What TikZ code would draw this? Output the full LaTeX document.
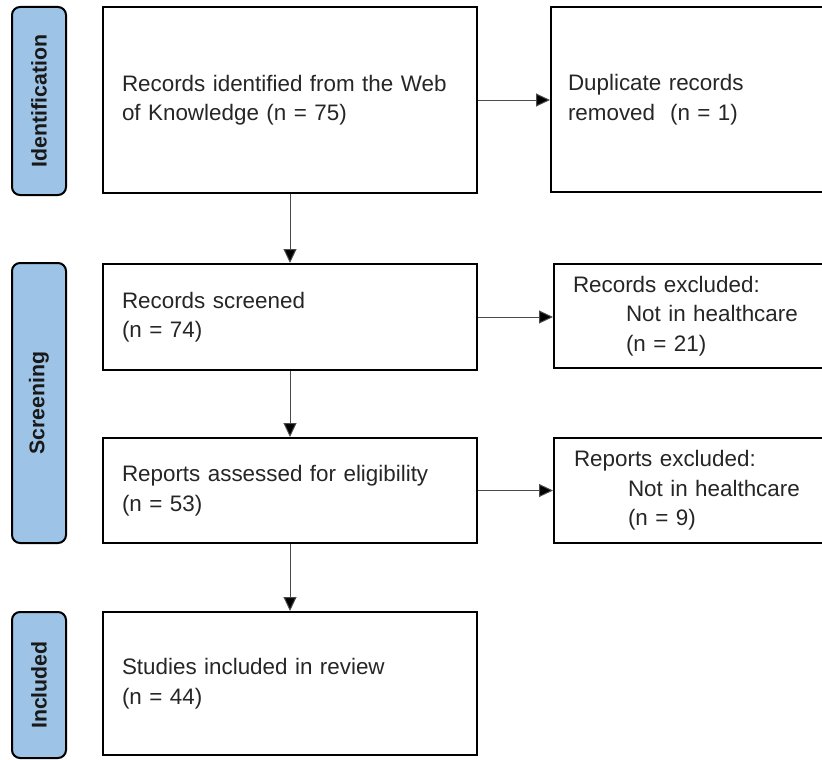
\documentclass[tikz,border=0pt]{standalone}
\usepackage{fontspec}
\setmainfont{Liberation Sans}
\usetikzlibrary{arrows.meta}
\definecolor{phase}{HTML}{9DC3E6}
\begin{document}
\begin{tikzpicture}[x=1pt,y=-1pt,
  box/.style={draw=black, line width=2pt, fill=white, align=left, inner xsep=0pt, inner ysep=0pt,
    font=\fontsize{22.4}{29.5}\selectfont, text=black!85},
  phaselab/.style={draw=black, line width=2pt, fill=phase, rounded corners=8pt, rotate=90,
    font=\bfseries\fontsize{21.3}{24}\selectfont, inner sep=0pt, text=black!90},
  conn/.style={draw=black!70, line width=1pt, -{Triangle[length=14pt,width=13pt,fill=black]}}
]
\clip (0,0) rectangle (822,760);
\fill[white] (0,0) rectangle (822,760);

% phase labels
\node[phaselab, minimum width=188pt, minimum height=54pt] (pid) at (39,101) {Identification};
\node[phaselab, minimum width=280pt, minimum height=54pt] (pscr) at (39,403) {Screening};
\node[phaselab, minimum width=146pt, minimum height=54pt] (pinc) at (39,685) {Included};

% main column
\node[box, minimum width=374pt, minimum height=186pt, text width=336pt] (ident) at (290,100)
  {Records identified from the Web\\of Knowledge (n = 75)};
\node[box, minimum width=374pt, minimum height=106pt, text width=336pt] (scr) at (290,317)
  {Records screened\\(n = 74)};
\node[box, minimum width=374pt, minimum height=105pt, text width=336pt] (elig) at (290,490.5)
  {Reports assessed for eligibility\\(n = 53)};
\node[box, minimum width=374pt, minimum height=143pt, text width=336pt] (incl) at (290,683.5)
  {Studies included in review\\(n = 44)};

% right column
\node[box, anchor=west, minimum width=290pt, minimum height=185pt, text width=256pt] (dup) at (550,99.5)
  {Duplicate records\\removed\ \ (n = 1)};
\node[box, anchor=west, minimum width=290pt, minimum height=104pt, text width=252pt] (recex) at (553,316)
  {Records excluded:\\\hspace*{53pt}Not in healthcare\\\hspace*{53pt}(n = 21)};
\node[box, anchor=west, minimum width=290pt, minimum height=105pt, text width=250pt] (repex) at (553,490.5)
  {Reports excluded:\\\hspace*{54pt}Not in healthcare\\\hspace*{54pt}(n = 9)};

% connectors
\draw[conn] (ident) -- (scr);
\draw[conn] (scr) -- (elig);
\draw[conn] (elig) -- (incl);
\draw[conn] (ident.east) -- (ident.east -| dup.west);
\draw[conn] (scr.east) -- (scr.east -| recex.west);
\draw[conn] (elig.east) -- (elig.east -| repex.west);
\end{tikzpicture}
\end{document}
